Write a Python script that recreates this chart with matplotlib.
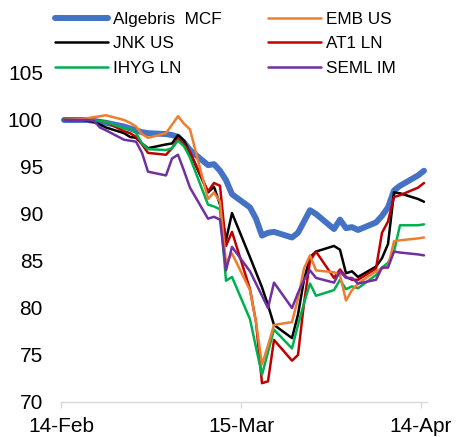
import pandas as pd
import numpy as np
import matplotlib
matplotlib.use("Agg")
import matplotlib.pyplot as plt
import matplotlib.dates as mdates

plt.rcParams["font.family"] = ["Liberation Sans", "DejaVu Sans"]

# trading days, 14-Feb to 14-Apr
dates = pd.to_datetime([
    "2020-02-14", "2020-02-17", "2020-02-18", "2020-02-19", "2020-02-20", "2020-02-21",
    "2020-02-24", "2020-02-25", "2020-02-26", "2020-02-27", "2020-02-28",
    "2020-03-02", "2020-03-03", "2020-03-04", "2020-03-05", "2020-03-06",
    "2020-03-09", "2020-03-10", "2020-03-11", "2020-03-12", "2020-03-13",
    "2020-03-16", "2020-03-17", "2020-03-18", "2020-03-19", "2020-03-20",
    "2020-03-23", "2020-03-24", "2020-03-25", "2020-03-26", "2020-03-27",
    "2020-03-30", "2020-03-31", "2020-04-01", "2020-04-02", "2020-04-03",
    "2020-04-06", "2020-04-07", "2020-04-08", "2020-04-09", "2020-04-10",
    "2020-04-13", "2020-04-14",
])

algebris = [100.0, 100.0, 100.0, 99.9, 99.8, 99.7,
            99.3, 99.1, 98.9, 98.7, 98.6,
            98.5, 98.4, 98.2, 97.6, 96.8,
            95.2, 95.3, 94.6, 93.6, 92.1,
            90.7, 89.5, 87.7, 88.0, 88.1,
            87.5, 88.0, 89.2, 90.4, 90.0,
            88.4, 89.4, 88.5, 88.6, 88.3,
            89.1, 89.8, 90.7, 92.5, 93.0,
            94.1, 94.6]
emb = [100.0, 100.1, 100.2, 100.3, 100.4, 100.5,
       100.0, 99.7, 99.3, 98.5, 98.1,
       98.6, 99.5, 100.4, 99.6, 99.0,
       91.6, 92.3, 91.3, 84.8, 85.8,
       81.9, 78.5, 74.0, 76.0, 78.2,
       78.5, 81.0, 84.2, 85.6, 84.0,
       83.8, 83.5, 80.8, 81.9, 82.6,
       83.9, 84.2, 84.4, 87.1, 87.2,
       87.4, 87.5]
jnk = [100.0, 100.0, 99.9, 99.8, 99.5, 99.2,
       98.6, 98.2, 98.1, 97.5, 97.0,
       97.4, 97.5, 98.4, 97.8, 96.5,
       92.3, 92.9, 91.0, 87.2, 90.1,
       85.4, 83.8, 82.2, 80.3, 78.2,
       76.8, 79.3, 83.0, 85.4, 86.0,
       86.6, 86.2, 83.7, 83.9, 83.3,
       84.4, 85.3, 86.8, 92.3, 92.2,
       91.6, 91.3]
at1 = [100.0, 100.0, 100.0, 100.0, 99.9, 99.8,
       98.8, 98.6, 98.2, 97.4, 96.5,
       96.3, 97.0, 98.0, 97.4, 96.6,
       92.4, 93.3, 93.0, 86.6, 88.1,
       82.0, 78.5, 72.0, 72.2, 76.6,
       74.4, 75.0, 80.5, 85.0, 86.0,
       83.2, 84.1, 83.3, 83.0, 83.0,
       84.2, 88.0, 89.2, 91.8, 92.0,
       92.8, 93.3]
ihyg = [100.0, 100.0, 100.0, 100.0, 99.9, 99.8,
        99.1, 99.1, 98.6, 97.5, 96.9,
        96.8, 97.0, 97.8, 97.2, 96.0,
        91.0, 90.8, 90.5, 82.9, 83.3,
        78.8, 75.8, 72.9, 75.3, 77.7,
        75.7, 78.2, 80.5, 82.6, 81.3,
        81.9, 83.0, 82.0, 82.3, 82.1,
        83.5, 84.3, 84.8, 86.0, 88.8,
        88.8, 88.9]
seml = [100.0, 100.0, 100.0, 99.9, 99.2, 98.9,
        97.9, 97.8, 97.7, 96.5, 94.5,
        94.1, 95.9, 96.3, 94.6, 92.8,
        89.5, 89.7, 89.4, 84.0, 86.5,
        83.9, 82.6, 81.3, 80.0, 82.7,
        80.0, 81.6, 83.0, 84.0, 83.2,
        82.7, 83.9, 83.2, 83.2, 82.6,
        83.0, 84.3, 84.3, 86.0, 85.9,
        85.7, 85.6]

labels = ["Algebris  MCF", "EMB US", "JNK US", "AT1 LN", "IHYG LN", "SEML IM"]
series = [algebris, emb, jnk, at1, ihyg, seml]
colors = ["#4472C4", "#ED7D31", "#000000", "#C00000", "#00B050", "#7030A0"]
widths = [4.3, 1.8, 1.8, 1.8, 1.8, 1.8]

xticks = pd.to_datetime(["2020-02-14", "2020-03-15", "2020-04-14"])

fig = plt.figure(figsize=(4.58, 4.37), dpi=100)
ax = fig.add_axes([0.1332, 0.0801, 0.7991, 0.7529])

# each day is a slot on the date axis, points sit in the middle of it
x = dates + pd.Timedelta(hours=12)
# draw order: thick fund line first
order = [0, 2, 3, 4, 1, 5]
handles = {}
for i in order:
    ln, = ax.plot(x, series[i], color=colors[i], lw=widths[i],
                  solid_capstyle="round", solid_joinstyle="round", label=labels[i])
    handles[i] = ln

ax.set_ylim(70, 105)
ax.set_yticks(np.arange(70, 106, 5))
ax.set_xlim(pd.Timestamp("2020-02-14"), pd.Timestamp("2020-04-15"))
ax.set_xticks(xticks)
ax.xaxis.set_major_formatter(mdates.DateFormatter("%-d-%b"))

for s in ["top", "right", "left"]:
    ax.spines[s].set_visible(False)
ax.spines["bottom"].set_color("#D9D9D9")
ax.spines["bottom"].set_linewidth(1.0)
ax.tick_params(axis="y", length=0, pad=13, labelsize=15)
ax.tick_params(axis="x", length=4, width=1.0, color="#D9D9D9", pad=6.5, labelsize=15)

# legend in two columns above the plot
leg_order = [0, 2, 4, 1, 3, 5]
fig.legend([handles[i] for i in leg_order], [labels[i] for i in leg_order],
           ncol=2, loc="upper left", bbox_to_anchor=(55 / 458, 1 - 12 / 437),
           frameon=False, fontsize=12.3, borderpad=0, borderaxespad=0,
           handlelength=3.1, handletextpad=0.3, columnspacing=2.7,
           labelspacing=0.55)

fig.savefig("out.png", dpi=100)
